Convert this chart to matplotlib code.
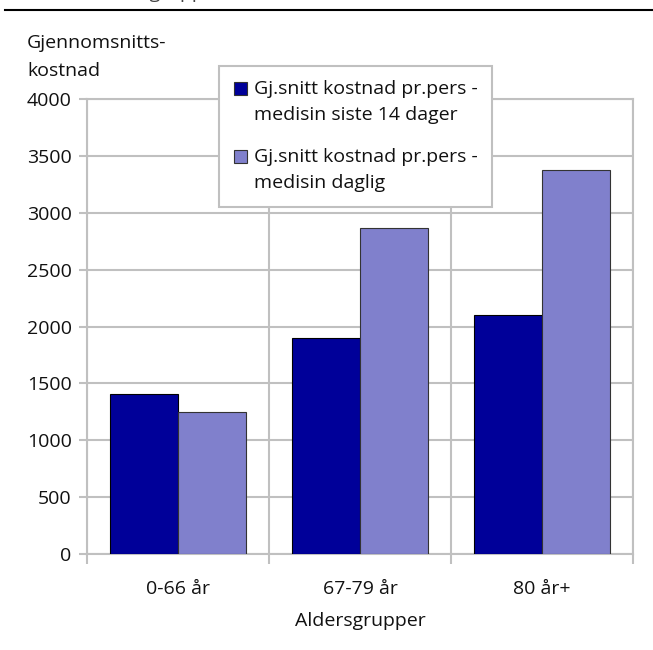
import matplotlib.pyplot as plt
from matplotlib.patches import Rectangle
import numpy as np

plt.rcParams['font.family'] = ['Open Sans', 'DejaVu Sans']

grupper = ['0-66 år', '67-79 år', '80 år+']
siste_14_dager = [1410, 1900, 2105]
daglig = [1245, 2865, 3375]
serier = ['Gj.snitt kostnad pr.pers -\nmedisin siste 14 dager',
          'Gj.snitt kostnad pr.pers -\nmedisin daglig']
farger = ['#000099', '#8080CC']
grid_farge = '#C0C0C0'
fs = 14

W, H = 653, 650
fig = plt.figure(figsize=(W / 100, H / 100), dpi=100)
ax = fig.add_axes([87 / W, 1 - 554 / H, 546 / W, 455 / H])

x = np.arange(len(grupper))
b = 0.375
ax.bar(x - b / 2, siste_14_dager, b, color=farger[0], edgecolor='black', linewidth=0.8, zorder=3)
ax.bar(x + b / 2, daglig, b, color=farger[1], edgecolor='#333333', linewidth=0.8, zorder=3)

ax.set_xlim(-0.5, 2.5)
ax.set_ylim(0, 4000)
ax.set_yticks(np.arange(0, 4001, 500))
ax.set_xticks(x)
ax.set_xticklabels(grupper)
ax.set_xticks([-0.5, 0.5, 1.5, 2.5], minor=True)

ax.grid(True, which='major', axis='y', color=grid_farge, linewidth=1.5, zorder=0)
ax.grid(True, which='minor', axis='x', color=grid_farge, linewidth=1.5, zorder=0)
for s in ax.spines.values():
    s.set_color(grid_farge)
    s.set_linewidth(1.5)

ax.tick_params(axis='y', which='major', length=6, width=1.5, color=grid_farge,
               labelsize=fs, pad=5, labelcolor='#111111')
ax.tick_params(axis='x', which='major', length=0, labelsize=fs, pad=19, labelcolor='#111111')
ax.tick_params(axis='x', which='minor', length=7, width=1.5, color=grid_farge)

# akseetiketter
fig.text(27 / W, 1 - 43 / H, 'Gjennomsnitts-', fontsize=fs, va='center', ha='left', color='#111111')
fig.text(27 / W, 1 - 71 / H, 'kostnad', fontsize=fs, va='center', ha='left', color='#111111')
fig.text(360 / W, 1 - 621 / H, 'Aldersgrupper', fontsize=fs, va='center', ha='center', color='#111111')

# overskrift som er kuttet i toppen
fig.text(92 / W, 1 + 2 / H, 'Aldersgrupper', fontsize=fs, va='baseline', ha='left', color='#444444')
fig.add_artist(plt.Line2D([5 / W, 1], [1 - 10 / H, 1 - 10 / H], color='black', linewidth=1.5,
                          transform=fig.transFigure))

# forklaring
fig.add_artist(Rectangle((219 / W, 1 - 207 / H), 273 / W, 141 / H, transform=fig.transFigure,
                         facecolor='white', edgecolor=grid_farge, linewidth=1.5, zorder=5))
for i, (navn, f) in enumerate(zip(serier, farger)):
    y0 = 89 + i * 68
    fig.add_artist(Rectangle((234 / W, 1 - (y0 + 6) / H), 13 / W, 13 / H, transform=fig.transFigure,
                             facecolor=f, edgecolor='#333333', linewidth=0.8, zorder=6))
    linjer = navn.split('\n')
    for j, t in enumerate(linjer):
        fig.text(254 / W, 1 - (y0 + j * 26) / H, t, fontsize=fs, va='center', ha='left',
                 color='#111111', zorder=6)

fig.savefig('out.png', dpi=100)
